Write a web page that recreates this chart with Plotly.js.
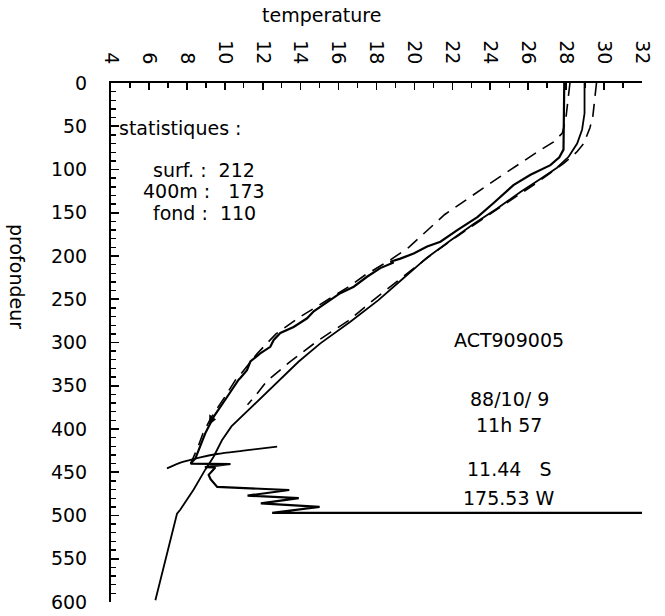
<!DOCTYPE html>
<html>
<head>
<meta charset="utf-8">
<script src="https://cdn.plot.ly/plotly-3.0.1.min.js"></script>
<style>html,body{margin:0;padding:0;background:#fff;}#chart{width:665px;height:616px;}</style>
</head>
<body>
<div id="chart"></div>
<script>
// ---- data (temperature in °C, depth in m) ----
const xTickVals = [4,6,8,10,12,14,16,18,20,22,24,26,28,30,32];
const yTickVals = [0,50,100,150,200,250,300,350,400,450,500,550,600];

// measured XBT profile (solid, wiggly) incl. bottom-hit spikes
const xbtTemp  = [27.9,27.86,27.64,27.17,26.12,25.22,24.16,23.32,22.26,21.37,20.67,19.96,19.26,18.73,18.9,18.56,18.2,17.5,16.8,16.09,15.39,14.69,14.34,13.63,12.93,12.58,12.4,11.87,11.35,11.17,10.82,10.73,10.12,9.41,8.97,8.71,8.45,8.2,10.3,8.95,9.5,9.15,9.25,9.6,13.4,11.2,13.9,11.9,15.0,12.5,32];
const xbtDepth = [0,77,86,95,106,118,139,155,170,183.5,189,197,203,206.6,207.5,210.4,214,224,235.5,243,253,264,272,282,289,297,305,312.5,322,332,341,343,363,386,405,420,434,440,440.5,444,444.5,453,458,467,470.5,477,480,486,490,497,497];

// climatological mean (solid, smooth)
const climTemp  = [28.97,28.97,28.84,28.58,28.14,27.52,26.64,25.59,24.36,23.12,21.9,20.6,19.4,18.1,16.62,15.04,13.9,13.0,12.0,11.1,10.35,9.85,9.41,8.97,8.36,7.66,7.48,6.34];
const climDepth = [0,35,54,70,85,98,111,126,145,163,182,203,226,251,276,301,322,341,362,380,397,413,432,447,470,493,498,598];

// envelope, cold side (dashed)
const lowTemp  = [28.2,28.1,27.98,27.8,27.34,26.6,25.9,24.4,23.0,21.6,20.6,19.7,18.7,17.4,16.5,15.1,14.0,12.7,11.7,10.9,10.6,10.0,9.3,8.85,8.6,8.3,8.2];
const lowDepth = [0,20,42,58,68,78,88,110,131,152,172,190,205,222,236,255,270,290,313,335,342,363,386,405,420,435,440];

// envelope, warm side (dashed)
const highTemp  = [29.6,29.5,29.4,29.25,28.93,28.55,27.87,26.47,25.06,23.65,22.2,20.8,19.4,18.0,16.5,14.9,13.4,12.2,11.6,11.2];
const highDepth = [0,20,40,52,70,80,93,115,136,157,178,200,224,248,275,298,323,345,362,372];

// short curved trace near the bottom
const sideTemp  = [6.95,7.83,8.71,9.59,10.99,12.76];
const sideDepth = [445.5,437.8,432.7,428.9,425,420.4];

// marker on the profile
const markTemp = [9.3];
const markDepth = [389];

// texts
const statLines = ['statistiques :', 'surf. :  212', '400m :   173', 'fond :  110'];
const infoLines = ['ACT909005', '88/10/ 9', '11h 57', '11.44   S', '175.53 W'];

const nb = s => s.replace(/ /g, '\u00a0');
const black = '#000';
const FONT = 'DejaVu Sans';

const traces = [
  {x: highTemp, y: highDepth, mode: 'lines', line: {color: black, width: 1.6, dash: '13px,8px'}, hoverinfo: 'skip'},
  {x: lowTemp, y: lowDepth, mode: 'lines', line: {color: black, width: 1.6, dash: '13px,8px'}, hoverinfo: 'skip'},
  {x: climTemp, y: climDepth, mode: 'lines', line: {color: black, width: 1.8}, hoverinfo: 'skip'},
  {x: xbtTemp, y: xbtDepth, mode: 'lines', line: {color: black, width: 2.2}, hoverinfo: 'skip'},
  {x: sideTemp, y: sideDepth, mode: 'lines', line: {color: black, width: 1.8, shape: 'spline'}, hoverinfo: 'skip'},
  {x: markTemp, y: markDepth, mode: 'markers', marker: {symbol: 'triangle-right', size: 9, color: black}, hoverinfo: 'skip'}
];

const ann = [];
// axis titles
ann.push({text: 'temperature', xref: 'paper', yref: 'paper', x: (321-111)/531, y: (602-15)/519, showarrow: false, xanchor: 'center', yanchor: 'middle', font: {family: FONT, size: 19, color: black}});
ann.push({text: 'profondeur', xref: 'paper', yref: 'paper', x: (17-111)/531, y: (602-276)/519, showarrow: false, textangle: 90, xanchor: 'center', yanchor: 'middle', font: {family: FONT, size: 19, color: black}});
// statistics block
ann.push({text: nb(statLines[0]), xref: 'x', yref: 'y', x: 4.3, y: 52, showarrow: false, xanchor: 'left', yanchor: 'middle', font: {family: FONT, size: 19, color: black}});
const statDepths = [100.6, 125, 150];
for (let i = 1; i < statLines.length; i++) {
  ann.push({text: nb(statLines[i]), xref: 'x', yref: 'y', x: 8.92, y: statDepths[i-1], showarrow: false, xanchor: 'center', yanchor: 'middle', font: {family: FONT, size: 19, color: black}});
}
const infoDepths = [297, 365, 395, 446, 480];
for (let i = 0; i < infoLines.length; i++) {
  ann.push({text: nb(infoLines[i]), xref: 'x', yref: 'y', x: 25, y: infoDepths[i], showarrow: false, xanchor: 'center', yanchor: 'middle', font: {family: FONT, size: 19, color: black}});
}

const layout = {
  width: 665, height: 616,
  margin: {l: 111, r: 23, t: 83, b: 14, pad: 0},
  paper_bgcolor: '#fff', plot_bgcolor: '#fff',
  showlegend: false,
  font: {family: FONT, size: 19, color: black},
  xaxis: {
    side: 'top', range: [4, 32], tickmode: 'array', tickvals: xTickVals,
    tickangle: 90, ticks: 'inside', ticklen: 7, tickwidth: 1.6, tickcolor: black,
    showline: true, linecolor: black, linewidth: 2, showgrid: false, zeroline: false,
    ticklabelstandoff: 10,
    minor: {dtick: 1, tick0: 4, ticks: 'inside', ticklen: 5, tickwidth: 1.4, tickcolor: black, showgrid: false},
    tickfont: {family: FONT, size: 19, color: black}, fixedrange: true
  },
  yaxis: {
    range: [600, 0], tickmode: 'array', tickvals: yTickVals,
    ticks: 'inside', ticklen: 8, tickwidth: 1.6, tickcolor: black,
    showline: true, linecolor: black, linewidth: 2, showgrid: false, zeroline: false,
    ticklabelstandoff: 18,
    minor: {dtick: 10, tick0: 0, ticks: 'inside', ticklen: 5, tickwidth: 1.4, tickcolor: black, showgrid: false},
    tickfont: {family: FONT, size: 19, color: black}, fixedrange: true
  },
  annotations: ann
};

Plotly.newPlot('chart', traces, layout, {displayModeBar: false, staticPlot: true});
</script>
</body>
</html>
